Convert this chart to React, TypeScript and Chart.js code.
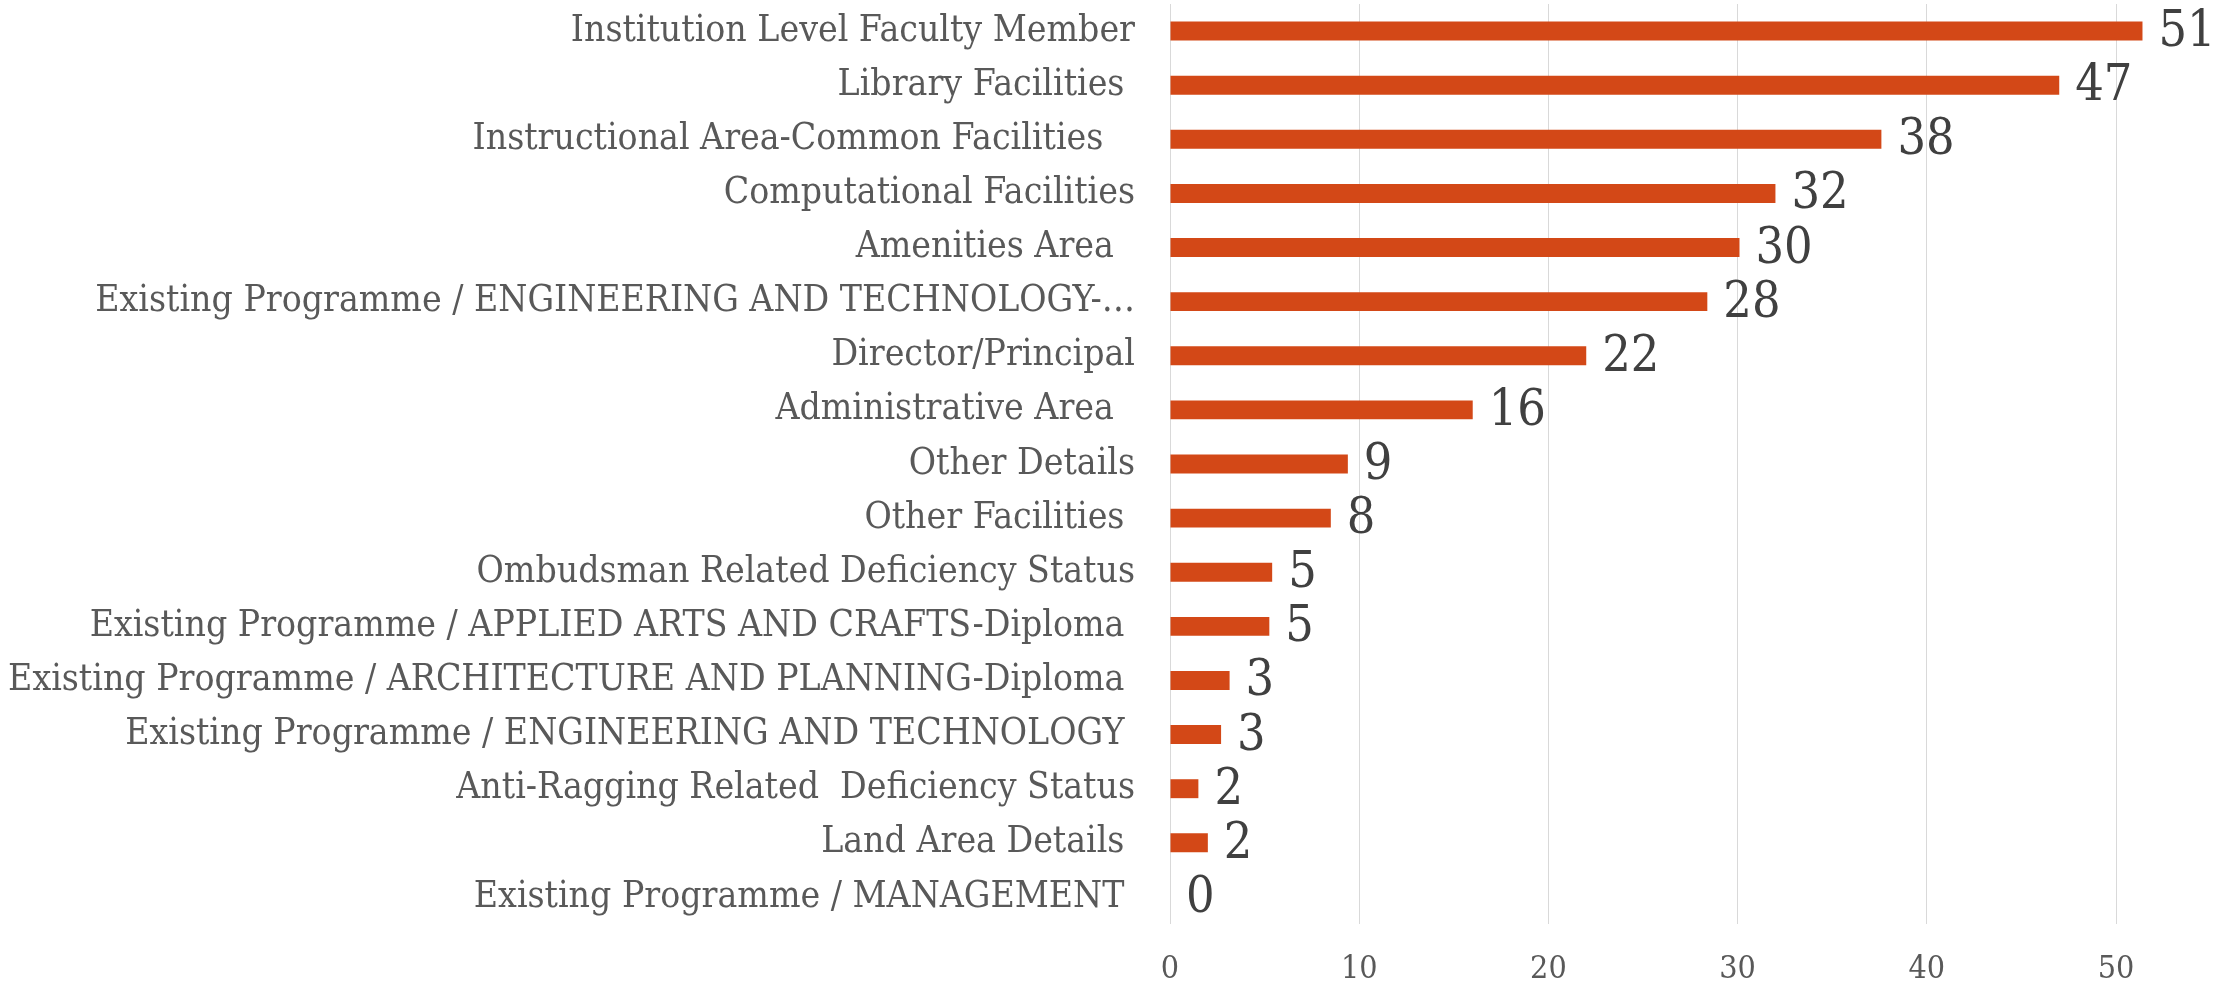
import React, { useEffect, useRef } from "react";
import { Chart, registerables } from "chart.js";

Chart.register(...registerables);

const categories: string[] = [
  "Institution Level Faculty Member",
  "Library Facilities ",
  "Instructional Area-Common Facilities   ",
  "Computational Facilities",
  "Amenities Area  ",
  "Existing Programme / ENGINEERING AND TECHNOLOGY-…",
  "Director/Principal",
  "Administrative Area  ",
  "Other Details",
  "Other Facilities ",
  "Ombudsman Related Deficiency Status",
  "Existing Programme / APPLIED ARTS AND CRAFTS-Diploma ",
  "Existing Programme / ARCHITECTURE AND PLANNING-Diploma ",
  "Existing Programme / ENGINEERING AND TECHNOLOGY ",
  "Anti-Ragging Related  Deficiency Status",
  "Land Area Details ",
  "Existing Programme / MANAGEMENT ",
];

const values: number[] = [51.4, 47.0, 37.6, 32.0, 30.1, 28.4, 22.0, 16.0, 9.4, 8.5, 5.4, 5.25, 3.15, 2.7, 1.5, 2.0, 0];

const valueLabels: string[] = ["51", "47", "38", "32", "30", "28", "22", "16", "9", "8", "5", "5", "3", "3", "2", "2", "0"];

const xTickValues: number[] = [0, 10, 20, 30, 40, 50];

const FONT = "'DejaVu Serif Condensed', 'DejaVu Serif', serif";

const dataLabelPlugin = {
  id: "dataLabels",
  afterDatasetsDraw(chart: any) {
    const ctx = chart.ctx;
    const meta = chart.getDatasetMeta(0);
    ctx.save();
    ctx.font = `50px ${FONT}`;
    ctx.fillStyle = "#404040";
    ctx.textAlign = "left";
    ctx.textBaseline = "middle";
    meta.data.forEach((el: any, i: number) => {
      ctx.fillText(valueLabels[i], el.x + 16, el.y + 2);
    });
    ctx.restore();
  },
};

export default function App() {
  const ref = useRef<HTMLCanvasElement>(null);
  useEffect(() => {
    document.body.style.margin = "0";
    const canvas = ref.current!;
    const chart = new Chart(canvas, {
      type: "bar",
      data: {
        labels: categories,
        datasets: [
          {
            data: values,
            backgroundColor: "#D34817",
            borderWidth: 0,
            barPercentage: 0.35,
            categoryPercentage: 1,
            clip: false as any,
          },
        ],
      },
      options: {
        indexAxis: "y",
        animation: false,
        responsive: false,
        devicePixelRatio: 1,
        layout: { padding: { top: 4, right: 109, bottom: 0, left: 0 } },
        plugins: { legend: { display: false }, tooltip: { enabled: false } },
        scales: {
          x: {
            min: xTickValues[0],
            max: xTickValues[xTickValues.length - 1],
            ticks: {
              stepSize: 10,
              color: "#595959",
              font: { family: FONT, size: 32 },
              padding: 26,
            },
            grid: { color: "#d9d9d9", lineWidth: 1, drawTicks: false },
            border: { display: false },
            afterFit(scale: any) {
              scale.height = 63;
              scale.paddingLeft = 0;
              scale.paddingRight = 0;
            },
          },
          y: {
            ticks: {
              color: "#595959",
              font: { family: FONT, size: 37 },
              padding: 35,
              autoSkip: false,
            },
            grid: { display: false, drawTicks: false },
            border: { display: false },
            afterFit(scale: any) {
              scale.width = 1170;
              scale.paddingTop = 0;
              scale.paddingBottom = 0;
            },
          },
        },
      },
      plugins: [dataLabelPlugin],
    });
    return () => chart.destroy();
  }, []);
  return <canvas ref={ref} width={2225} height={987} style={{ display: "block" }} />;
}
